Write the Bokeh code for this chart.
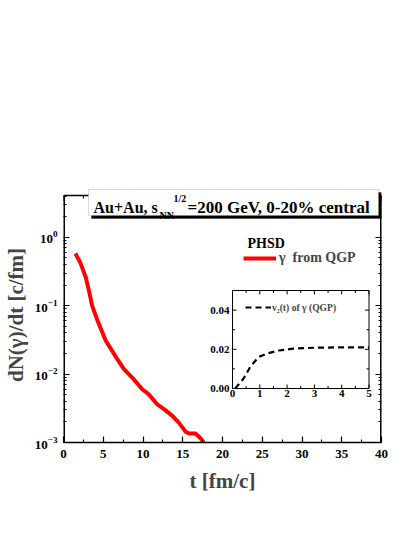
import math
from bokeh.plotting import figure
from bokeh.models import (Range1d, LinearAxis, LogAxis, SingleIntervalTicker, FixedTicker,
                          CustomJSTickFormatter, Label, BoxAnnotation, Legend, LegendItem,
                          LinearScale, LogTickFormatter)
from bokeh.core.properties import value
from bokeh.embed import file_html
from bokeh.resources import INLINE

# ---------------- data ----------------
t_qgp = [1.5, 2.1, 2.8, 3.2, 3.6, 4.2, 5.3, 6.0, 6.5, 7.6, 8.8, 9.9, 10.7,
         11.8, 12.6, 13.7, 14.5, 15.35, 15.8, 16.6, 17.15, 17.65]
dn_qgp = [0.58, 0.43, 0.26, 0.166, 0.10, 0.064, 0.031, 0.023, 0.0185, 0.0118,
          0.0085, 0.0060, 0.0051, 0.0036, 0.0031, 0.00245, 0.00195, 0.00144,
          0.00135, 0.00135, 0.00118, 0.00100]

t_v2 = [0.1, 0.4, 0.65, 0.95, 1.3, 1.7, 2.2, 3.0, 4.0, 5.0]
v2 = [0.0, 0.005, 0.011, 0.016, 0.018, 0.0194, 0.0203, 0.0208, 0.021, 0.021]

x_ticks_inset = [0, 1, 2, 3, 4, 5]
y_ticks_inset = [0.0, 0.02, 0.04]
y_tick_labels_inset = ["0.00", "0.02", "0.04"]

y_major = [1e-3, 1e-2, 1e-1, 1.0]

FONT = "Liberation Serif"

# ---------------- layout constants (page px) ----------------
FL, FR, FT, FB = 63, 381, 187, 442        # frame (extended upward for title box)
BORDER_TOP = 195                           # drawn plot border top
DEC = 68.3                                 # px per decade
Y1_PX = 236.7                              # page y of 10^0
X_MAX = 40.0
YTOP = 10 ** ((Y1_PX - BORDER_TOP) / DEC)
YEND = 10 ** ((Y1_PX - FT) / DEC)

p = figure(frame_width=FR - FL, frame_height=FB - FT, y_axis_type="log",
           x_range=Range1d(0, X_MAX), y_range=Range1d(1e-3, YEND),
           output_backend="svg", toolbar_location=None,
           min_border_left=FL, min_border_right=26, min_border_top=FT, min_border_bottom=87)
p.xgrid.visible = False
p.ygrid.visible = False
p.outline_line_color = None
p.background_fill_color = "white"
p.border_fill_color = "white"

def style_axis(ax, show_labels=True):
    ax.axis_line_width = 1.5
    ax.major_tick_in = 6
    ax.major_tick_out = 0
    ax.minor_tick_in = 3
    ax.minor_tick_out = 0
    ax.major_tick_line_width = 1.2
    ax.minor_tick_line_width = 1
    ax.major_label_text_font = FONT
    ax.major_label_text_font_style = "bold"
    ax.major_label_text_font_size = "13px"
    ax.major_label_text_color = "black"
    if not show_labels:
        ax.formatter = CustomJSTickFormatter(code="return ''")

y_minor = [k * m for m in y_major for k in range(2, 10) if k * m <= YTOP]

p.xaxis.ticker = SingleIntervalTicker(interval=5, num_minor_ticks=2)
style_axis(p.xaxis[0])
p.xaxis.major_label_standoff = 7
p.xaxis.axis_label = "t [fm/c]"
p.xaxis.axis_label_text_font = FONT
p.xaxis.axis_label_text_font_style = "bold"
p.xaxis.axis_label_text_font_size = "21px"
p.xaxis.axis_label_standoff = 8

p.yaxis.ticker = FixedTicker(ticks=y_major, minor_ticks=y_minor)
p.yaxis.formatter = LogTickFormatter()
style_axis(p.yaxis[0])
p.yaxis.axis_line_color = None
p.yaxis.major_label_standoff = 6
p.yaxis.axis_label = "dN(γ)/dt [c/fm]"
p.yaxis.axis_label_text_font = FONT
p.yaxis.axis_label_text_font_style = "bold"
p.yaxis.axis_label_text_font_size = "21px"
p.yaxis.axis_label_standoff = 4

right_ax = LogAxis(ticker=FixedTicker(ticks=y_major, minor_ticks=y_minor))
style_axis(right_ax, False)
right_ax.axis_line_color = None
p.add_layout(right_ax, "right")

# frame border (left/right drawn at edges -> half clipped, so doubled width)
p.segment(x0=[0, X_MAX], y0=[1e-3, 1e-3], x1=[0, X_MAX], y1=[YTOP, YTOP],
          line_color="black", line_width=3)
p.segment(x0=[0], y0=[YTOP], x1=[X_MAX], y1=[YTOP], line_color="black", line_width=1.5)
# top ticks
top_major = [v * 5.0 for v in range(0, 9)]
top_minor = [v * 5.0 + 2.5 for v in range(0, 8)]
f_maj = 10 ** (-6 / DEC)
f_min = 10 ** (-3 / DEC)
p.segment(x0=top_major, y0=[YTOP] * len(top_major), x1=top_major, y1=[YTOP * f_maj] * len(top_major),
          line_color="black", line_width=1.2)
p.segment(x0=top_minor, y0=[YTOP] * len(top_minor), x1=top_minor, y1=[YTOP * f_min] * len(top_minor),
          line_color="black", line_width=1)

# ---------------- inset ranges ----------------
IL, IR, IT, IB = 232, 368.5, 290, 388   # inset frame (page px)
ipx = (IR - IL) / 5.0
ipy = (IB - IT) / 0.05
p.extra_x_ranges = {"ix": Range1d(0 - (IL - FL) / ipx, 5 + (FR - IR) / ipx)}
p.extra_y_ranges = {"iy": Range1d(0 - (FB - IB) / ipy, 0.05 + (IT - FT) / ipy)}
p.extra_x_scales = {"ix": LinearScale()}
p.extra_y_scales = {"iy": LinearScale()}

# main curve
r_main = p.line(t_qgp, dn_qgp, line_color="#ff0000", line_width=4, line_join="round")

# inset box
p.quad(left=0, right=5, bottom=0, top=0.05, fill_color="white", line_color="black",
       line_width=1, x_range_name="ix", y_range_name="iy")
maj = 4.0
mnr = 2.5
xmaj = x_ticks_inset
xmin = [v + 0.5 for v in x_ticks_inset[:-1]]
kw = dict(line_color="black", line_width=1, x_range_name="ix", y_range_name="iy")
p.segment(x0=xmaj, y0=[0] * len(xmaj), x1=xmaj, y1=[maj / ipy] * len(xmaj), **kw)
p.segment(x0=xmaj, y0=[0.05] * len(xmaj), x1=xmaj, y1=[0.05 - maj / ipy] * len(xmaj), **kw)
p.segment(x0=xmin, y0=[0] * len(xmin), x1=xmin, y1=[mnr / ipy] * len(xmin), **kw)
p.segment(x0=xmin, y0=[0.05] * len(xmin), x1=xmin, y1=[0.05 - mnr / ipy] * len(xmin), **kw)
ymaj = y_ticks_inset
ymin = [v + 0.01 for v in y_ticks_inset]
p.segment(x0=[0] * len(ymaj), y0=ymaj, x1=[maj / ipx] * len(ymaj), y1=ymaj, **kw)
p.segment(x0=[5] * len(ymaj), y0=ymaj, x1=[5 - maj / ipx] * len(ymaj), y1=ymaj, **kw)
p.segment(x0=[0] * len(ymin), y0=ymin, x1=[mnr / ipx] * len(ymin), y1=ymin, **kw)
p.segment(x0=[5] * len(ymin), y0=ymin, x1=[5 - mnr / ipx] * len(ymin), y1=ymin, **kw)
p.text(x=x_ticks_inset, y=[0] * len(x_ticks_inset), text=[str(v) for v in x_ticks_inset],
       text_font=value(FONT), text_font_style="bold", text_font_size="11px",
       text_align="center", text_baseline="top", y_offset=1,
       x_range_name="ix", y_range_name="iy")
p.text(x=[0] * len(y_ticks_inset), y=y_ticks_inset, text=y_tick_labels_inset,
       text_font=value(FONT), text_font_style="bold", text_font_size="11px",
       text_align="right", text_baseline="middle", x_offset=-3,
       x_range_name="ix", y_range_name="iy")
r_v2 = p.line(t_v2, v2, line_color="black", line_width=2.2, line_dash="6 4",
              line_join="round", x_range_name="ix", y_range_name="iy")

# ---------------- legends ----------------
leg = Legend(items=[LegendItem(label="γ  from QGP", renderers=[r_main])],
             location=(180, 176),
             background_fill_alpha=0, border_line_color=None,
             label_text_font=FONT, label_text_font_style="bold", label_text_font_size="14px",
             glyph_width=33, glyph_height=14, label_standoff=3, padding=2, margin=0,
             spacing=0)
p.add_layout(leg, "center")
leg2 = Legend(items=[LegendItem(label="v\u2082(t) of γ (QGP)", renderers=[r_v2])],
              location=(182, 129),
              background_fill_alpha=0, border_line_color=None,
              label_text_font=FONT, label_text_font_style="bold", label_text_font_size="9.6px",
              glyph_width=26, glyph_height=12, label_standoff=1, padding=1, margin=0)
p.add_layout(leg2, "center")

# ---------------- title box ----------------
def sx(X):
    return X - FL

def sy(Y):
    return FB - Y

p.add_layout(BoxAnnotation(left=sx(91), right=sx(381), bottom=sy(218), top=sy(192),
                           left_units="screen", right_units="screen",
                           bottom_units="screen", top_units="screen",
                           fill_color="black", fill_alpha=1, line_color="black"))
p.add_layout(BoxAnnotation(left=sx(88), right=sx(378), bottom=sy(215), top=sy(189),
                           left_units="screen", right_units="screen",
                           bottom_units="screen", top_units="screen",
                           fill_color="white", fill_alpha=1, line_color="#888888", line_width=1))

def lab(text, X, Y, size):
    p.add_layout(Label(text=text, x=sx(X), y=sy(Y), x_units="screen", y_units="screen",
                       text_font=FONT, text_font_style="bold", text_font_size=size,
                       text_align="left", text_baseline="alphabetic", text_color="black"))

lab("Au+Au, s", 93, 207, "16px")
lab("NN", 159, 215, "10px")
lab("1/2", 173, 198, "10px")
lab("=200 GeV, 0-20% central", 187, 207, "17px")
lab("PHSD", 247, 243, "14px")

open("out.html", "w").write(file_html(p, INLINE))
